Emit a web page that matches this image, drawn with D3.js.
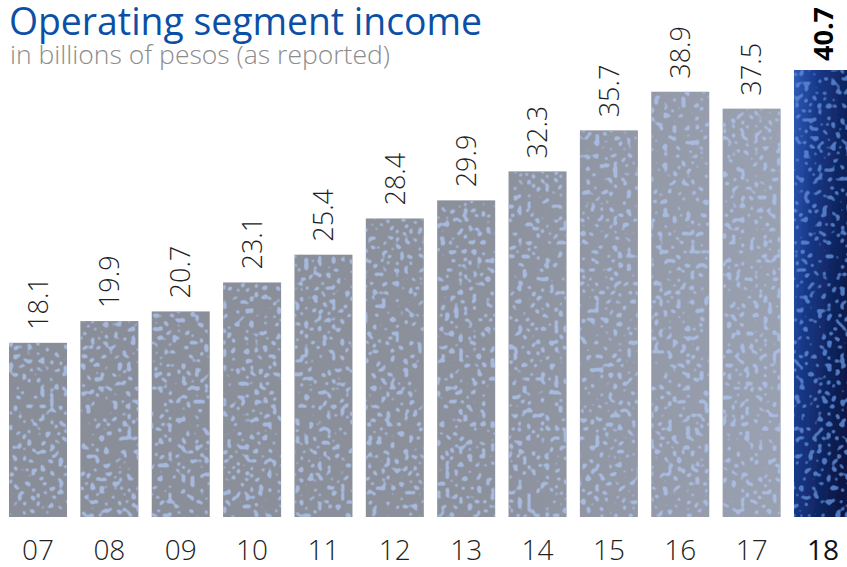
<!DOCTYPE html>
<html>
<head>
<meta charset="utf-8">
<script src="https://cdn.jsdelivr.net/npm/d3@7"></script>
<style>
  html, body { margin: 0; padding: 0; background: #ffffff; }
  svg { display: block; }
</style>
</head>
<body>
<div id="chart"></div>
<script>
// ---- data ----
const years = ["07", "08", "09", "10", "11", "12", "13", "14", "15", "16", "17", "18"];
const income = [18.1, 19.9, 20.7, 23.1, 25.4, 28.4, 29.9, 32.3, 35.7, 38.9, 37.5, 40.7];
const valueLabels = ["18.1", "19.9", "20.7", "23.1", "25.4", "28.4", "29.9", "32.3", "35.7", "38.9", "37.5", "40.7"];
const highlightYear = "18";
const titleText = "Operating segment income";
const subtitleText = "in billions of pesos (as reported)";

const W = 847, H = 567;
const svg = d3.select("#chart").append("svg").attr("width", W).attr("height", H);
const defs = svg.append("defs");

// gray bar fill (slightly lighter / bluer to the right)
const gg = defs.append("linearGradient").attr("id", "grayFill")
  .attr("gradientUnits", "userSpaceOnUse").attr("x1", 0).attr("y1", 0).attr("x2", 790).attr("y2", 0);
gg.append("stop").attr("offset", "0").attr("stop-color", "#888d97");
gg.append("stop").attr("offset", "0.6").attr("stop-color", "#8b909b");
gg.append("stop").attr("offset", "1").attr("stop-color", "#9aa1b1");

// highlight bar fill
const bg = defs.append("linearGradient").attr("id", "blueFill")
  .attr("x1", 0).attr("y1", 0).attr("x2", 1).attr("y2", 0.45);
bg.append("stop").attr("offset", "0").attr("stop-color", "#2f5bb8");
bg.append("stop").attr("offset", "0.35").attr("stop-color", "#183888");
bg.append("stop").attr("offset", "1").attr("stop-color", "#0a1846");

function speckle(id, color, opacity, seed) {
  const f = defs.append("filter").attr("id", id)
    .attr("x", 0).attr("y", 0).attr("width", 1).attr("height", 1);
  f.append("feTurbulence").attr("type", "fractalNoise").attr("baseFrequency", "0.22")
    .attr("numOctaves", 1).attr("seed", seed).attr("result", "noise");
  f.append("feColorMatrix").attr("in", "noise").attr("type", "matrix")
    .attr("values", "0 0 0 0 0  0 0 0 0 0  0 0 0 0 0  14 0 0 0 -8.1")
    .attr("result", "mask");
  f.append("feGaussianBlur").attr("in", "mask").attr("stdDeviation", 1.1).attr("result", "blurMask");
  const ct = f.append("feComponentTransfer").attr("in", "blurMask").attr("result", "softMask");
  ct.append("feFuncA").attr("type", "linear").attr("slope", 2.4).attr("intercept", -0.35);
  f.append("feFlood").attr("flood-color", color).attr("flood-opacity", opacity).attr("result", "col");
  f.append("feComposite").attr("in", "col").attr("in2", "softMask").attr("operator", "in").attr("result", "dots");
  f.append("feComposite").attr("in", "dots").attr("in2", "SourceGraphic")
    .attr("operator", "in").attr("result", "clipped");
  const m = f.append("feMerge");
  m.append("feMergeNode").attr("in", "SourceGraphic");
  m.append("feMergeNode").attr("in", "clipped");
}
speckle("speckGray", "#aec4ee", 0.75, 4);
speckle("speckBlue", "#5a86d4", 0.8, 7);

// ---- scales ----
const x = d3.scaleBand().domain(years).range([9, 852]).paddingInner(0.187).paddingOuter(0);
const y = d3.scaleLinear().domain([3.67, 40.7]).range([517, 70]);

// ---- bars ----
svg.append("g").selectAll("rect").data(years).join("rect")
  .attr("x", d => x(d))
  .attr("y", (d, i) => y(income[i]))
  .attr("width", x.bandwidth())
  .attr("height", (d, i) => y.range()[0] - y(income[i]))
  .attr("fill", d => d === highlightYear ? "url(#blueFill)" : "url(#grayFill)")
  .attr("filter", d => d === highlightYear ? "url(#speckBlue)" : "url(#speckGray)");

// ---- value labels (rotated) ----
svg.append("g").selectAll("text").data(years).join("text")
  .attr("transform", (d, i) => `translate(${x(d) + x.bandwidth() / 2},${y(income[i]) - (d === highlightYear ? 9 : 13)}) rotate(-90)`)
  .attr("dy", "0.36em")
  .attr("text-anchor", "start")
  .style("font-family", "'Open Sans', sans-serif")
  .style("font-size", "27px")
  .style("font-weight", d => d === highlightYear ? 700 : 300)
  .attr("fill", d => d === highlightYear ? "#000000" : "#222222")
  .text((d, i) => valueLabels[i]);

// ---- x axis ----
const xAxis = svg.append("g").attr("transform", "translate(0,517)")
  .call(d3.axisBottom(x).tickSize(0).tickPadding(0));
xAxis.select(".domain").remove();
xAxis.selectAll("text")
  .attr("y", 43).attr("dy", null)
  .style("font-family", "'Open Sans', sans-serif")
  .style("font-size", "28px")
  .style("font-weight", d => d === highlightYear ? 500 : 300)
  .attr("fill", d => d === highlightYear ? "#111111" : "#222222");

// ---- titles ----
svg.append("text").attr("x", 9).attr("y", 35)
  .attr("textLength", 473).attr("lengthAdjust", "spacingAndGlyphs")
  .style("font-family", "'Open Sans', sans-serif")
  .style("font-size", "38px")
  .style("font-weight", 400)
  .attr("fill", "#0b4fa6")
  .text(titleText);

svg.append("text").attr("x", 10).attr("y", 64)
  .attr("textLength", 380).attr("lengthAdjust", "spacingAndGlyphs")
  .style("font-family", "'Open Sans', sans-serif")
  .style("font-size", "25.5px")
  .style("font-weight", 300)
  .attr("fill", "#8c8c8c")
  .text(subtitleText);
</script>
</body>
</html>
